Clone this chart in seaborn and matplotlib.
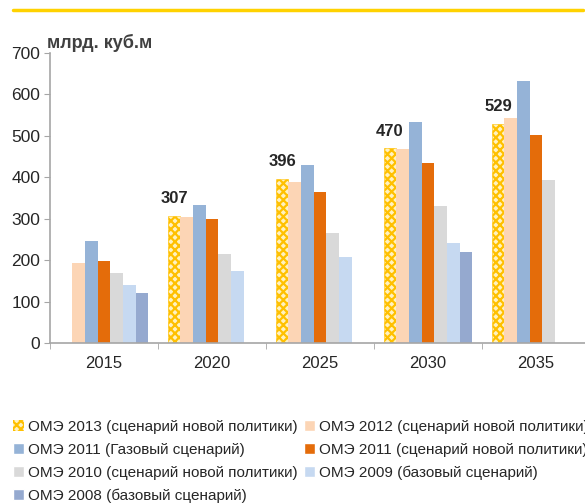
import numpy as np
import pandas as pd
import seaborn as sns
import matplotlib.pyplot as plt
from matplotlib.patches import Patch
from matplotlib.lines import Line2D

years = ["2015", "2020", "2025", "2030", "2035"]
series = [
    "ОМЭ 2013 (сценарий новой политики)",
    "ОМЭ 2012 (сценарий новой политики)",
    "ОМЭ 2011 (Газовый сценарий)",
    "ОМЭ 2011 (сценарий новой политики)",
    "ОМЭ 2010 (сценарий новой политики)",
    "ОМЭ 2009 (базовый сценарий)",
    "ОМЭ 2008 (базовый сценарий)",
]
weo2013 = [np.nan, 307, 396, 470, 529]
weo2012 = [194, 303, 389, 469, 543]
weo2011_gas = [246, 334, 429, 534, 633]
weo2011_np = [197, 300, 365, 434, 501]
weo2010 = [168, 215, 265, 331, 394]
weo2009 = [141, 175, 208, 241, np.nan]
weo2008 = [120, np.nan, np.nan, 220, np.nan]
colors = ["#FFF2C0", "#FCD5B5", "#95B3D7", "#E46C0A", "#D9D9D9", "#C6D9F1", "#95A9CF"]

values = [weo2013, weo2012, weo2011_gas, weo2011_np, weo2010, weo2009, weo2008]
rows = []
for name, vals in zip(series, values):
    for yr, v in zip(years, vals):
        rows.append((yr, name, v))
df = pd.DataFrame(rows, columns=["year", "series", "value"])

sns.set_style("white")
plt.rcParams["font.family"] = ["Liberation Sans", "DejaVu Sans"]
plt.rcParams["hatch.linewidth"] = 1.6

fig = plt.figure(figsize=(5.85, 5.04), dpi=100)
ax = fig.add_axes([50 / 585, 161 / 504, 540 / 585, 290 / 504])

sns.barplot(
    df, x="year", y="value", hue="series", hue_order=series,
    palette=colors, saturation=1, width=0.82, errorbar=None,
    linewidth=0, legend=False, ax=ax,
)

# checkered fill for the 2013 series
for bar in ax.containers[0]:
    bar.set_hatch("xxxx")
    bar.set_edgecolor("#FFC000")
    bar.set_linewidth(0.4)
ax.bar_label(ax.containers[0], fmt="%.0f", padding=7,
             fontsize=12, fontweight="bold")

ax.set_ylim(0, 700)
ax.set_xlim(-0.5, 4.5)
ax.set_yticks(range(0, 701, 100))
ax.set_xlabel("")
ax.set_ylabel("")
ax.tick_params(axis="y", labelsize=12.5, length=4, color="#A6A6A6", left=True, pad=3)
ax.tick_params(axis="x", which="major", labelsize=12, length=0, pad=9)
ax.set_xticks(np.arange(-0.5, 5, 1), minor=True)
ax.tick_params(axis="x", which="minor", length=4, color="#A6A6A6", bottom=True)
for s in ["top", "right"]:
    ax.spines[s].set_visible(False)
for s in ["left", "bottom"]:
    ax.spines[s].set_color("#A6A6A6")
    ax.spines[s].set_linewidth(1.2)

ax.text(-3 / 540, 1.005, "млрд. куб.м", transform=ax.transAxes, fontsize=13,
        fontweight="bold", color="#404040", ha="left", va="bottom")

fig.add_artist(Line2D([13 / 585, 583 / 585], [494 / 504, 494 / 504],
                      color="#FFD200", linewidth=2.5))

handles = []
for name, c in zip(series, colors):
    if name == series[0]:
        handles.append(Patch(facecolor=c, edgecolor="#FFC000", hatch="xxxx",
                             linewidth=0, label=name))
    else:
        handles.append(Patch(facecolor=c, label=name))
order = [0, 2, 4, 6, 1, 3, 5]
fig.legend([handles[i] for i in order], [series[i] for i in order],
           loc="upper left", bbox_to_anchor=(13 / 585, 84 / 504), ncol=2,
           frameon=False, fontsize=11, handlelength=0.7, handleheight=0.7,
           handletextpad=0.25, columnspacing=0.45, labelspacing=0.58,
           borderaxespad=0, borderpad=0)

fig.savefig("out.png", dpi=100)
